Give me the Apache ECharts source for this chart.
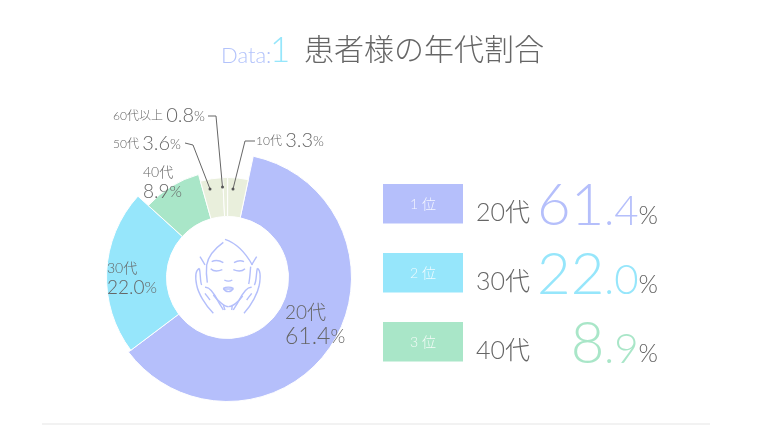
<!DOCTYPE html>
<html><head><meta charset="utf-8">
<script src="https://cdn.jsdelivr.net/npm/echarts@6/dist/echarts.min.js"></script>
<style>html,body{margin:0;padding:0;background:#fff}#c{width:760px;height:428px}</style>
</head><body><div id="c"></div>
<script>
const categories = ['20代','30代','40代','50代','60代以上','10代'];
const shares = [61.4,22.0,8.9,3.6,0.8,3.3];
const sliceColors = ['#b5bffb','#96e6fb','#a9e6c8','#e9efdc','#e9efdc','#e9efdc'];
const ranks = ['1 位','2 位','3 位'];
const titleText = '患者様の年代割合';
const LATIN = 'Lato, "Noto Sans CJK JP", sans-serif';
const chart = echarts.init(document.getElementById('c'), null, {renderer:'canvas'});
const center = [227.5,277.5];
const groups = [{r:124,idx:[0]},{r:121,idx:[1]},{r:107,idx:[2]},{r:100,idx:[3,4,5]}];
const labelPos = {0:[285,301],1:[107,259],2:[143,163]};
const series = groups.map(g=>({
  type:'pie',silent:true,clockwise:true,startAngle:78,center,radius:[61,g.r],
  animation:false,avoidLabelOverlap:false,
  labelLine:{show:false},
  label:{show:false},
  labelLayout:p=>labelPos[p.dataIndex]?{x:labelPos[p.dataIndex][0],y:labelPos[p.dataIndex][1],align:'left',verticalAlign:'top',hideOverlap:false}:{},
  data:categories.map((n,i)=>{
    const own=g.idx.includes(i);
    return {name:n,value:shares[i],
      itemStyle:own?{color:sliceColors[i],borderColor:'#fff',borderWidth:1}:{color:'rgba(0,0,0,0)',borderWidth:0},
      label:(own&&i<3)?{show:true,position:'inside',color:'#666',lineHeight:i===0?24:19,
        fontFamily:LATIN,fontWeight:300,fontSize:i===0?23:19,
        formatter:()=>`{n|${n}}\n${shares[i].toFixed(1)}{p|%}`,
        rich:{n:{fontFamily:LATIN,fontWeight:300,color:'#666',fontSize:i===0?19:14,lineHeight:i===0?24:19},
              p:{fontFamily:LATIN,fontWeight:300,color:'#666',fontSize:i===0?19:16}}}:{show:false}};
  })
}));
const g=[];
g.push({type:'text',x:221,y:45,z:5,style:{text:'Data:',font:'300 22px '+LATIN,fill:'#b3c3fb'}});
g.push({type:'text',x:270,y:33,z:5,style:{text:'1',font:'300 35px '+LATIN,fill:'#96e6fb'}});
g.push({type:'text',x:304,y:34,z:5,style:{text:titleText,font:'300 30px "Noto Sans CJK JP"',fill:'#666'}});
const callouts=[
 {i:4,x:113,y:116,line:[[208,116],[216,116],[222.5,187]]},
 {i:3,x:113,y:144,line:[[185,143],[193,145],[210,189]]},
 {i:5,x:256,y:141,line:[[255,141],[245,141],[233,189]]}];
callouts.forEach(c=>{
  g.push({type:'text',x:c.x,y:c.y,z:5,style:{
    text:`{n|${categories[c.i]} }{v|${shares[c.i].toFixed(1)}}{p|%}`,verticalAlign:'middle',
    rich:{n:{font:'300 12px '+LATIN,fill:'#666'},v:{font:'300 20px '+LATIN,fill:'#666'},p:{font:'300 14px '+LATIN,fill:'#666'}}}});
  g.push({type:'polyline',z:4,shape:{points:c.line},style:{stroke:'#666',lineWidth:1,fill:null}});
  const e=c.line[2];
  g.push({type:'circle',z:4,shape:{cx:e[0],cy:e[1],r:1.5},style:{fill:'#555'}});
});
const rowTop=[184,253,322];
ranks.forEach((r,i)=>{
  const c=sliceColors[i];
  g.push({type:'rect',z:3,shape:{x:383,y:rowTop[i],width:80,height:39.5},style:{fill:c}});
  g.push({type:'text',z:5,x:423,y:rowTop[i]+20,style:{text:r,font:'300 14px '+LATIN,fill:'rgba(255,255,255,.85)',align:'center',verticalAlign:'middle'}});
  g.push({type:'text',z:5,x:476,y:rowTop[i]+16,style:{text:categories[i],font:'300 25px '+LATIN,fill:'#666',verticalAlign:'top'}});
  const [a,b]=shares[i].toFixed(1).split('.');
  g.push({type:'text',z:5,x:658,y:rowTop[i]+51,style:{
    text:`{a|${a}}{b|.${b}}{p|%}`,align:'right',verticalAlign:'bottom',
    rich:{a:{font:'300 58px '+LATIN,fill:c,verticalAlign:'bottom'},b:{font:'300 42px '+LATIN,fill:c,verticalAlign:'bottom',padding:[0,0,3,0]},p:{font:'300 25px '+LATIN,fill:'#666',verticalAlign:'bottom',padding:[0,0,7,0]}}}});
});
const iconCurves=[[195,88,225,98,255,125,277,165],[190,97,165,115,145,135,140,165],[140,165,138,185,140,205,142,218],[272,170,270,190,270,205,266,222],[120,140,125,148,130,156,135,165],[290,140,285,148,280,156,275,165],[155,155,165,150,180,152,190,158],[222,158,232,152,242,150,252,155],[152,176,162,186,175,184,187,179],[220,179,232,184,245,186,255,176],[193,210,200,214,210,214,217,210],[190,235,198,230,212,230,220,235],[220,235,213,248,197,248,190,235],[190,237,200,237,210,237,220,237],[160,255,175,275,195,290,205,290],[205,290,220,290,235,275,248,258],[118,175,108,180,105,200,110,225],[110,225,115,250,135,285,160,310],[118,175,122,190,120,215,125,225],[135,232,148,230,160,245,175,275],[175,275,180,285,188,295,190,300],[135,250,140,257,145,263,150,270],[292,175,302,180,302,200,298,225],[298,225,293,250,275,285,252,310],[292,175,288,190,290,215,283,225],[275,232,262,230,250,245,235,275],[235,275,230,285,222,295,220,300],[275,250,270,257,265,263,260,270],[190,285,192,290,193,295,195,300],[217,285,216,290,216,295,215,300]];
iconCurves.forEach(k=>{
  const px=(v)=>160+v/3, py=(v)=>210+v/3;
  g.push({type:'bezierCurve',z:6,shape:{x1:px(k[0]),y1:py(k[1]),cpx1:px(k[2]),cpy1:py(k[3]),cpx2:px(k[4]),cpy2:py(k[5]),x2:px(k[6]),y2:py(k[7])},style:{stroke:'#b4bffb',lineWidth:1.4,fill:null}});
});
g.push({type:'line',z:1,shape:{x1:42,y1:424,x2:710,y2:424},style:{stroke:'#eeeeee',lineWidth:1.5}});
chart.setOption({backgroundColor:'#fff',animation:false,series,graphic:{elements:g}});
</script></body></html>
